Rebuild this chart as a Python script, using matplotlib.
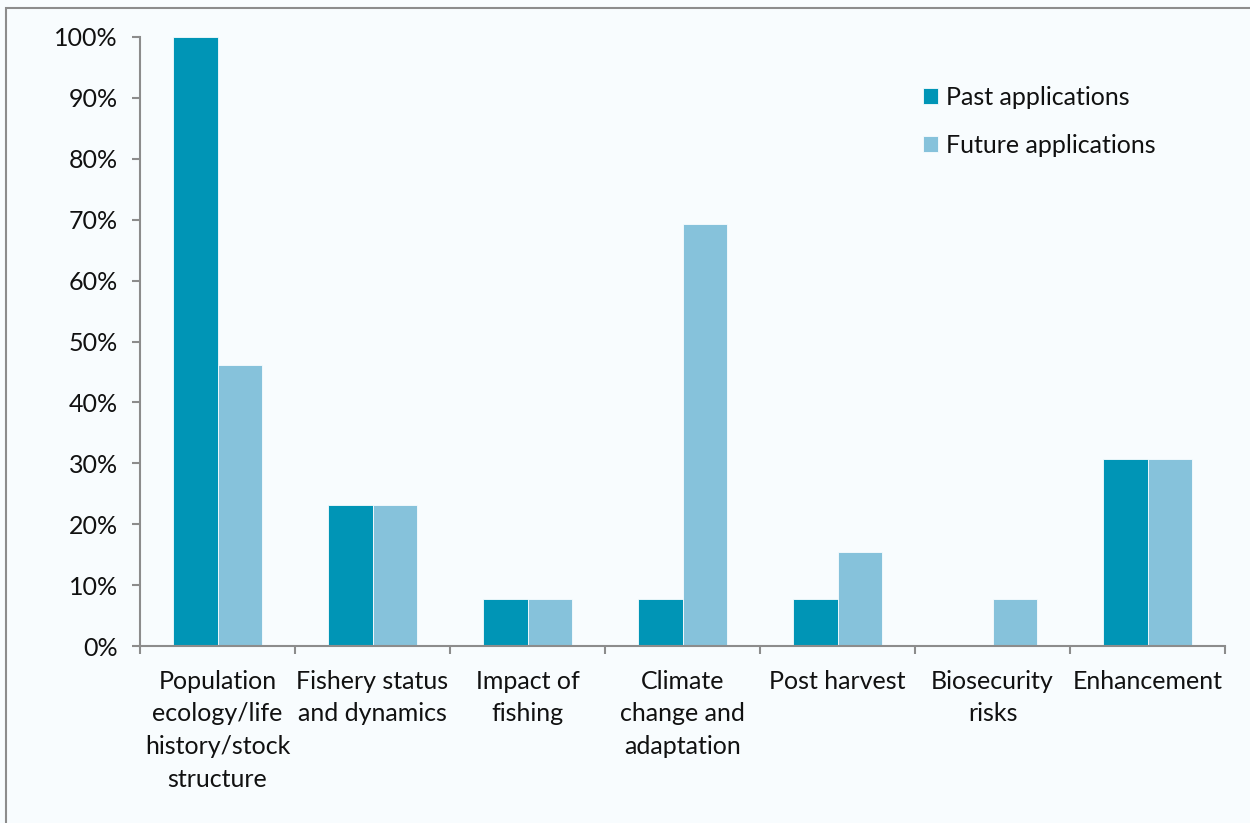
import matplotlib
matplotlib.use("Agg")
import matplotlib.pyplot as plt
from matplotlib.patches import Rectangle
from matplotlib.ticker import FuncFormatter, FixedLocator
import numpy as np

categories = [
    "Population\necology/life\nhistory/stock\nstructure",
    "Fishery status\nand dynamics",
    "Impact of\nfishing",
    "Climate\nchange and\nadaptation",
    "Post harvest",
    "Biosecurity\nrisks",
    "Enhancement",
]
past = [100.0, 23.08, 7.69, 7.69, 7.69, 0.0, 30.77]
future = [46.15, 23.08, 7.69, 69.23, 15.38, 7.69, 30.77]
series_names = ["Past applications", "Future applications"]
yticks = [0, 10, 20, 30, 40, 50, 60, 70, 80, 90, 100]

plt.rcParams['font.family'] = ['Lato', 'DejaVu Sans']
bg = '#F8FCFE'
c_past = '#0095B6'
c_future = '#86C2DB'
fs = 18

fig = plt.figure(figsize=(12.5, 8.23), dpi=100, facecolor=bg)
ax = fig.add_axes([140/1250, (823-646)/823, (1225-140)/1250, (646-37)/823])
ax.set_facecolor(bg)

x = np.arange(len(categories))
w = 0.284
ax.bar(x - w/2, past, w, color=c_past, label=series_names[0], edgecolor=bg, linewidth=0.6)
ax.bar(x + w/2, future, w, color=c_future, label=series_names[1], edgecolor=bg, linewidth=0.6)

ax.set_xlim(-0.5, len(categories) - 0.5)
ax.set_ylim(0, 100)
ax.set_yticks(yticks)
ax.yaxis.set_major_formatter(FuncFormatter(lambda v, p: f"{int(v)}%"))

for s in ['top', 'right']:
    ax.spines[s].set_visible(False)
for s in ['left', 'bottom']:
    ax.spines[s].set_color('#8C8C8C')
    ax.spines[s].set_linewidth(1.5)

ax.tick_params(axis='y', length=6, width=1.5, color='#8C8C8C', labelsize=fs, pad=10, labelcolor='#111111')
ax.xaxis.set_major_locator(FixedLocator(np.arange(-0.5, len(categories), 1.0)))
ax.xaxis.set_major_formatter(FuncFormatter(lambda v, p: ""))
ax.xaxis.set_minor_locator(FixedLocator(x))
ax.set_xticklabels(categories, minor=True)
ax.tick_params(axis='x', which='major', length=6, width=1.5, color='#8C8C8C')
ax.tick_params(axis='x', which='minor', length=0, labelsize=fs, pad=17, labelcolor='#111111')
for lbl in ax.get_xticklabels(minor=True):
    lbl.set_linespacing(1.52)
    lbl.set_verticalalignment('top')

leg = ax.legend(loc='upper left', bbox_to_anchor=((923-140)/1085, 1 - (86-37)/609),
                frameon=False, fontsize=fs, handlelength=0.6, handleheight=0.6,
                handletextpad=0.3, labelspacing=1.0, borderaxespad=0, borderpad=0)
for t in leg.get_texts():
    t.set_color('#111111')

fig.patches.append(Rectangle((6/1250, -0.1), 2.0, (823-8)/823 + 0.1, transform=fig.transFigure,
                             fill=False, edgecolor='#8C8C8C', linewidth=1.5))

fig.savefig('out.png', dpi=100, facecolor=bg)
